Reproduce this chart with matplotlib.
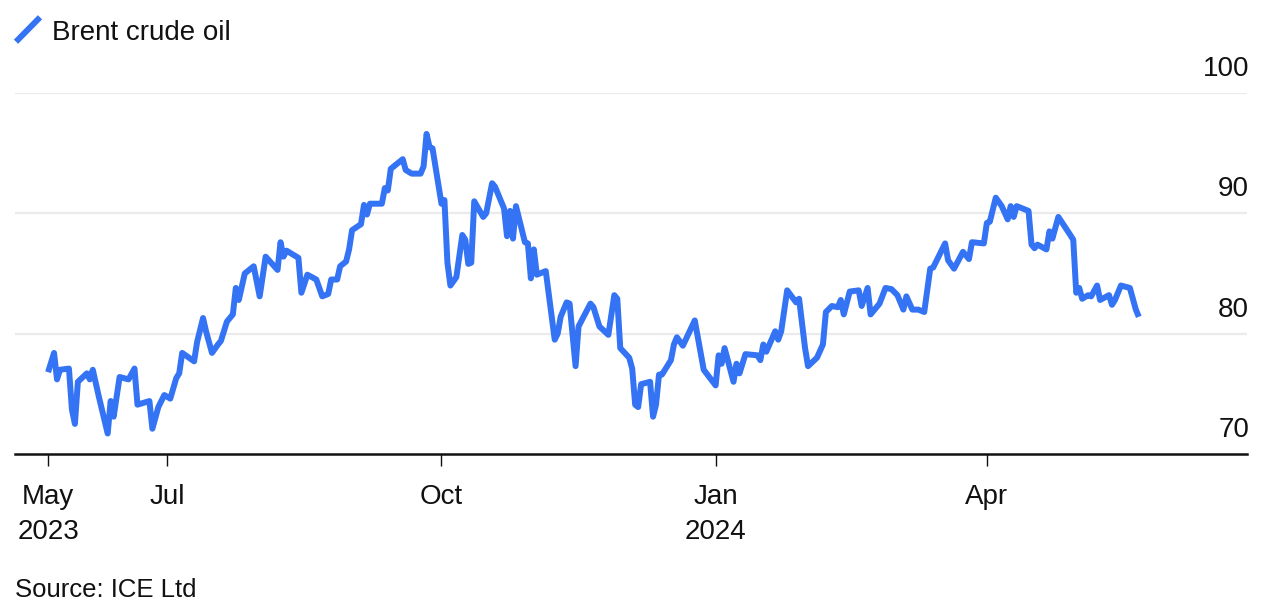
import matplotlib
matplotlib.use("Agg")
import matplotlib.pyplot as plt
import pandas as pd
from matplotlib.lines import Line2D

plt.rcParams['font.family'] = ['Liberation Sans', 'DejaVu Sans']

series_name = "Brent crude oil"
source_text = "Source: ICE Ltd"

dates = [
    "2023-05-22", "2023-05-24", "2023-05-25", "2023-05-26", "2023-05-29", "2023-05-30", "2023-05-31",
    "2023-06-01", "2023-06-04", "2023-06-05", "2023-06-06", "2023-06-08", "2023-06-11", "2023-06-12",
    "2023-06-13", "2023-06-15", "2023-06-18", "2023-06-20", "2023-06-21", "2023-06-25", "2023-06-26",
    "2023-06-28", "2023-06-30", "2023-07-02", "2023-07-04", "2023-07-05", "2023-07-06", "2023-07-10",
    "2023-07-11", "2023-07-13", "2023-07-14", "2023-07-16", "2023-07-18", "2023-07-19", "2023-07-21",
    "2023-07-23", "2023-07-24", "2023-07-25", "2023-07-27", "2023-07-30", "2023-08-01", "2023-08-03",
    "2023-08-07", "2023-08-08", "2023-08-09", "2023-08-10", "2023-08-14", "2023-08-15", "2023-08-17",
    "2023-08-20", "2023-08-22", "2023-08-24", "2023-08-25", "2023-08-27", "2023-08-28", "2023-08-30",
    "2023-08-31", "2023-09-01", "2023-09-04", "2023-09-05", "2023-09-06", "2023-09-07", "2023-09-11",
    "2023-09-12", "2023-09-13", "2023-09-14", "2023-09-18", "2023-09-19", "2023-09-21", "2023-09-24",
    "2023-09-25", "2023-09-26", "2023-09-27", "2023-09-28", "2023-10-01", "2023-10-02", "2023-10-03",
    "2023-10-04", "2023-10-06", "2023-10-08", "2023-10-09", "2023-10-10", "2023-10-11", "2023-10-12",
    "2023-10-15", "2023-10-16", "2023-10-18", "2023-10-19", "2023-10-22", "2023-10-23", "2023-10-24",
    "2023-10-25", "2023-10-26", "2023-10-29", "2023-10-30", "2023-10-31", "2023-11-01", "2023-11-02",
    "2023-11-05", "2023-11-07", "2023-11-08", "2023-11-09", "2023-11-10", "2023-11-12", "2023-11-13",
    "2023-11-15", "2023-11-16", "2023-11-20", "2023-11-21", "2023-11-23", "2023-11-26", "2023-11-28",
    "2023-11-29", "2023-11-30", "2023-12-03", "2023-12-04", "2023-12-05", "2023-12-06", "2023-12-07",
    "2023-12-10", "2023-12-11", "2023-12-12", "2023-12-13", "2023-12-14", "2023-12-17", "2023-12-18",
    "2023-12-19", "2023-12-21", "2023-12-25", "2023-12-28", "2024-01-01", "2024-01-02", "2024-01-03",
    "2024-01-04", "2024-01-07", "2024-01-08", "2024-01-09", "2024-01-11", "2024-01-15", "2024-01-16",
    "2024-01-17", "2024-01-18", "2024-01-21", "2024-01-22", "2024-01-23", "2024-01-25", "2024-01-28",
    "2024-01-29", "2024-01-31", "2024-02-01", "2024-02-04", "2024-02-06", "2024-02-07", "2024-02-09",
    "2024-02-11", "2024-02-12", "2024-02-13", "2024-02-15", "2024-02-18", "2024-02-19", "2024-02-21",
    "2024-02-22", "2024-02-25", "2024-02-27", "2024-02-29", "2024-03-02", "2024-03-04", "2024-03-05",
    "2024-03-07", "2024-03-09", "2024-03-11", "2024-03-13", "2024-03-14", "2024-03-18", "2024-03-19",
    "2024-03-21", "2024-03-24", "2024-03-26", "2024-03-27", "2024-03-31", "2024-04-01", "2024-04-02",
    "2024-04-04", "2024-04-06", "2024-04-08", "2024-04-09", "2024-04-10", "2024-04-11", "2024-04-15",
    "2024-04-16", "2024-04-17", "2024-04-18", "2024-04-21", "2024-04-22", "2024-04-23", "2024-04-25",
    "2024-04-29", "2024-04-30", "2024-05-01", "2024-05-02", "2024-05-03", "2024-05-05", "2024-05-06",
    "2024-05-08", "2024-05-09", "2024-05-12", "2024-05-13", "2024-05-14", "2024-05-16", "2024-05-19",
    "2024-05-21", "2024-05-22",
]

prices = [
    76.8, 78.4, 76.2, 77.0, 77.1, 73.7, 72.5,
    76.0, 76.7, 76.2, 77.0, 74.8, 71.7, 74.4,
    73.1, 76.4, 76.2, 77.1, 74.1, 74.4, 72.1,
    73.9, 74.9, 74.6, 76.3, 76.7, 78.4, 77.7,
    79.3, 81.3, 80.2, 78.4, 79.1, 79.4, 81.0,
    81.6, 83.8, 82.8, 85.0, 85.6, 83.1, 86.4,
    85.3, 87.6, 86.4, 86.9, 86.3, 83.4, 84.9,
    84.5, 83.1, 83.3, 84.5, 84.5, 85.6, 86.0,
    87.0, 88.6, 89.1, 90.7, 89.9, 90.8, 90.8,
    92.1, 91.9, 93.7, 94.5, 93.6, 93.3, 93.3,
    93.9, 96.6, 95.5, 95.4, 90.8, 91.1, 85.9,
    84.0, 84.7, 88.2, 87.8, 85.8, 85.9, 91.0,
    89.7, 90.0, 92.5, 92.2, 90.4, 88.1, 90.2,
    87.9, 90.6, 87.6, 87.5, 84.6, 87.0, 84.9,
    85.2, 81.4, 79.5, 80.0, 81.4, 82.6, 82.5,
    77.3, 80.6, 82.5, 82.2, 80.6, 79.9, 83.2,
    82.9, 78.8, 78.0, 77.1, 74.1, 73.9, 75.8,
    76.0, 73.1, 74.1, 76.6, 76.6, 77.8, 79.1,
    79.7, 79.0, 81.1, 77.0, 75.7, 78.2, 77.5,
    78.8, 76.0, 77.5, 76.7, 78.3, 78.2, 77.8,
    79.1, 78.5, 80.2, 79.5, 80.2, 83.6, 82.6,
    82.9, 78.8, 77.3, 78.0, 79.1, 81.8, 82.3,
    82.2, 82.8, 81.6, 83.5, 83.6, 82.3, 83.8,
    81.6, 82.5, 83.8, 83.7, 83.2, 82.0, 83.1,
    82.0, 82.0, 81.8, 85.4, 85.5, 87.5, 86.1,
    85.4, 86.8, 86.2, 87.6, 87.5, 89.2, 89.3,
    91.3, 90.6, 89.5, 90.6, 89.7, 90.6, 90.2,
    87.4, 87.1, 87.4, 87.0, 88.5, 87.9, 89.7,
    88.2, 87.8, 83.4, 83.8, 82.9, 83.2, 83.1,
    84.0, 82.8, 83.2, 82.4, 82.8, 84.0, 83.8,
    82.0, 81.4,
]

tick_dates = ["2023-05-22", "2023-07-01", "2023-10-01", "2024-01-01", "2024-04-01"]
tick_labels = ["May\n2023", "Jul", "Oct", "Jan\n2024", "Apr"]
y_values = [70, 80, 90, 100]

BLUE = "#3373f4"
W, H = 1272, 612

fig = plt.figure(figsize=(W / 100, H / 100), dpi=100)
ax = fig.add_axes([15 / W, 1 - 454 / H, (1247 - 15) / W, (454 - 93) / H])

x = pd.to_datetime(dates)
ax.plot(x, prices, color=BLUE, lw=4.3, solid_joinstyle="round", solid_capstyle="butt", zorder=3)

start = pd.Timestamp("2023-05-22")
ax.set_xlim(start - pd.Timedelta(days=11.1), start + pd.Timedelta(days=402.3))
ax.set_ylim(70, 100)

for v in y_values[1:]:
    ax.axhline(v, color="#ebebeb", lw=1.6, zorder=1)
for v in y_values:
    ax.annotate(str(v), xy=(1, v), xycoords=("axes fraction", "data"),
                xytext=(1.5, 12.2), textcoords="offset points",
                ha="right", va="baseline", fontsize=20, color="#111111",
                annotation_clip=False)

for s in ["top", "right", "left"]:
    ax.spines[s].set_visible(False)
ax.spines["bottom"].set_linewidth(1.8)
ax.spines["bottom"].set_color("#111111")
ax.spines["bottom"].set_zorder(4)

ax.set_yticks([])
ax.set_xticks(pd.to_datetime(tick_dates))
ax.set_xticklabels(tick_labels, fontsize=20, color="#111111", linespacing=1.46)
ax.tick_params(axis="x", length=8.5, width=1.0, color="#111111", pad=13)

# legend
fig.add_artist(Line2D([16 / W, 40 / W], [1 - 41.7 / H, 1 - 17.3 / H], color=BLUE, lw=4.3,
                      solid_capstyle="butt", transform=fig.transFigure))
fig.text(52 / W, 1 - 40 / H, series_name, fontsize=20, color="#111111", ha="left", va="baseline")

fig.text(15 / W, 1 - 597 / H, source_text, fontsize=18.5, color="#111111", ha="left", va="baseline")

fig.savefig("out.png", dpi=100)
